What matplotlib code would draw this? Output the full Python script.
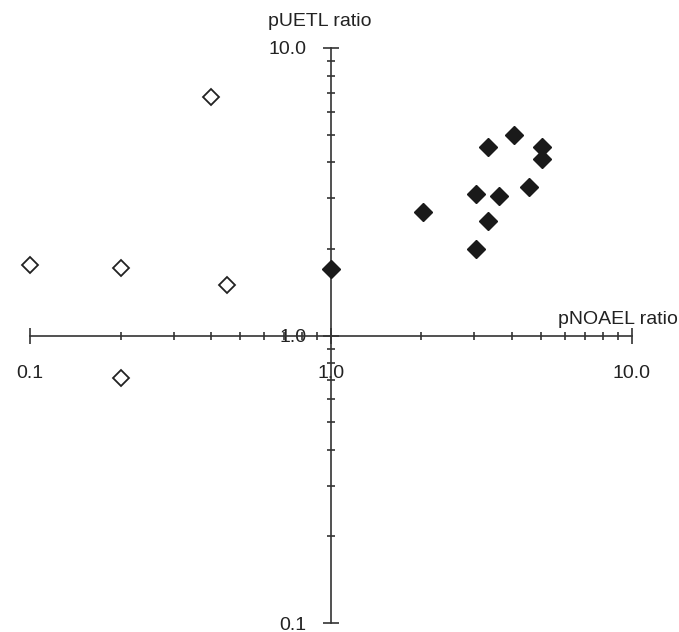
import matplotlib
matplotlib.use('Agg')
from matplotlib import pyplot as plt
from matplotlib.ticker import LogLocator, NullFormatter

# open diamonds
open_x = [0.1, 0.2, 0.45, 0.4, 0.2]
open_y = [1.76, 1.72, 1.50, 6.76, 0.71]

# filled diamonds
filled_x = [1.0, 2.02, 3.03, 3.03, 3.33, 3.62, 3.33, 4.05, 5.05, 5.05, 4.54]
filled_y = [1.71, 2.69, 3.11, 2.0, 2.50, 3.06, 4.52, 5.0, 4.52, 4.1, 3.28]

x_ticks = [0.1, 1.0, 10.0]
x_labels = ['0.1', '1.0', '10.0']
y_ticks = [0.1, 1.0, 10.0]
y_labels = ['0.1', '1.0', '10.0']

plt.rcParams['font.family'] = ['Liberation Sans', 'DejaVu Sans']

fig = plt.figure(figsize=(6.79, 6.32), dpi=100)
ax = fig.add_axes([30 / 679, 9 / 632, 601.7 / 679, 575 / 632])

ax.set_xscale('log')
ax.set_yscale('log')
ax.set_xlim(0.1, 10)
ax.set_ylim(0.1, 10)

ax.plot(open_x, open_y, linestyle='none', marker='D', markersize=8.5,
        markerfacecolor='white', markeredgecolor='#222222', markeredgewidth=1.3,
        clip_on=False, zorder=3)
ax.plot(filled_x, filled_y, linestyle='none', marker='D', markersize=9,
        markerfacecolor='#1a1a1a', markeredgecolor='#1a1a1a',
        clip_on=False, zorder=3)

ax.spines['left'].set_position(('data', 1))
ax.spines['bottom'].set_position(('data', 1))
ax.spines['top'].set_visible(False)
ax.spines['right'].set_visible(False)
for s in ['left', 'bottom']:
    ax.spines[s].set_color('#333333')
    ax.spines[s].set_linewidth(1.2)

ax.set_xticks(x_ticks)
ax.set_xticklabels(x_labels)
ax.set_yticks(y_ticks)
ax.set_yticklabels(y_labels)
for axis in [ax.xaxis, ax.yaxis]:
    axis.set_minor_locator(LogLocator(base=10, subs=range(2, 10)))
    axis.set_minor_formatter(NullFormatter())

ax.tick_params(which='major', direction='inout', length=11, width=1.2,
               color='#333333', labelsize=14, labelcolor='#222222')
ax.tick_params(which='minor', direction='inout', length=6, width=1.2,
               color='#333333')
ax.tick_params(axis='x', which='major', pad=16)
ax.tick_params(axis='y', which='major', pad=12)

fig.text(268 / 679, 1 - 22 / 632, 'pUETL ratio', ha='left', va='center',
         fontsize=14, color='#222222')
fig.text(678 / 679, 1 - 320 / 632, 'pNOAEL ratio', ha='right', va='center',
         fontsize=14, color='#222222')

fig.savefig('out.png', dpi=100, facecolor='white')
